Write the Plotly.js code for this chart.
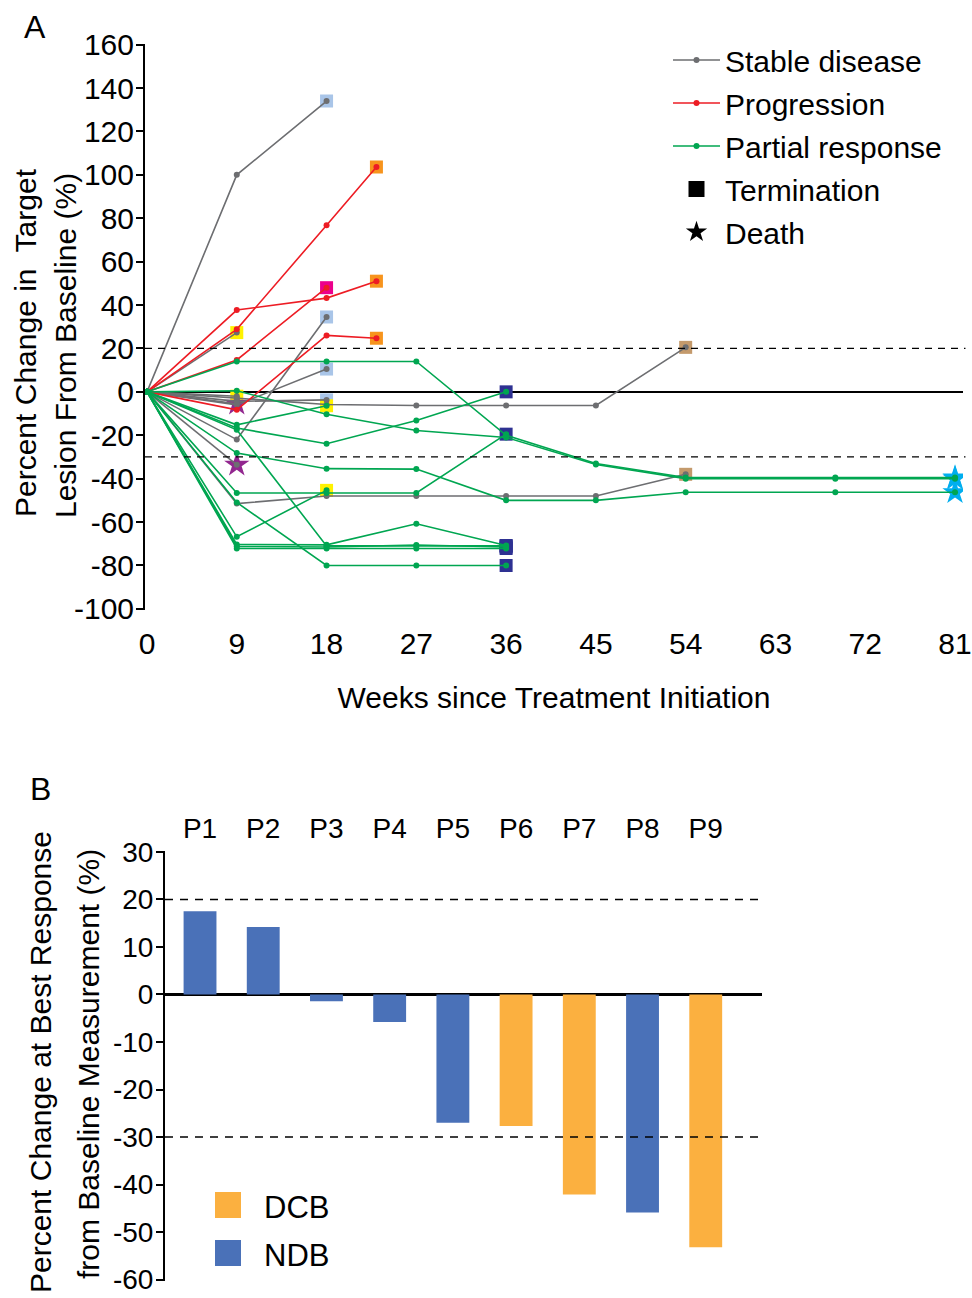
<!DOCTYPE html>
<html>
<head>
<meta charset="utf-8">
<script src="https://cdn.plot.ly/plotly-3.0.1.min.js"></script>
<style>html,body{margin:0;padding:0;background:#fff;}</style>
</head>
<body>
<div id="chart" style="width:972px;height:1298px;"></div>
<script>
// ---------- Panel A data ----------
const weekTicks = [0, 9, 18, 27, 36, 45, 54, 63, 72, 81];
const pctTicksA = [-100, -80, -60, -40, -20, 0, 20, 40, 60, 80, 100, 120, 140, 160];
const weekSched = [0, 9, 18, 27, 36, 45, 54, 69, 81];   // assessment weeks
const weekSchedPD = [0, 9, 18, 23];                      // progression assessments

// Stable disease
const sd1 = [0, 100, 134];
const sd2 = [0, 27.3];
const sd3 = [0, -22, 34.5];
const sd4 = [0, -6, 10.5];
const sd5 = [0, -3, -5.8, -6.3, -6.3, -6.3, 20.5];
const sd6 = [0, -51.5, -48, -48, -48, -48, -38];
const sd7 = [0, -4.4, -3.7];
const sd8 = [0, -33.6];
const sd9 = [0, -5.5];
const sd10 = [0, -2];
// Progression
const pd1 = [0, 28.8, 76.8, 103.6];
const pd2 = [0, 37.7, 43.2, 51];
const pd3 = [0, 14.7, 48];
const pd4 = [0, -8.3, 26, 24.7];
// Partial response
const pr1 = [0, 14, 14, 14, -20, -33, -39.5, -39.5, -39.5];
const pr2 = [0, 0.5, -10.3, -17.8, -21, -33.5, -40, -40, -40];
const pr3 = [0, -28.2, -35.4, -35.6, -50, -50, -46.3, -46.3, -46.3];
const pr4 = [0, -66.8, -45.4];
const pr5 = [0, -46.6, -46.6, -46.6, -19.5];
const pr6 = [0, -15.2, -6.4];
const pr7 = [0, -16.7, -23.9, -13.2, 0];
const pr8 = [0, -17.5, -71, -71, -71];
const pr9 = [0, -51, -80, -80, -80];
const pr10 = [0, -70.3, -70.5, -60.8, -70.8];
const pr11 = [0, -71.2, -71.5, -70.6, -71.5];
const pr12 = [0, -72.2, -72.2, -72.2, -72.2];

// End-of-follow-up event for each patient (T = termination, D = death)
const sdSeries = [sd1, sd2, sd3, sd4, sd5, sd6, sd7, sd8, sd9, sd10];
const sdEvent  = ['T', 'T', 'T', 'T', 'T', 'T', 'T', 'D', 'D', 'T'];
const pdSeries = [pd1, pd2, pd3, pd4];
const pdEvent  = ['T', 'T', 'T', 'T'];
const prSeries = [pr1, pr2, pr3, pr4, pr5, pr6, pr7, pr8, pr9, pr10, pr11, pr12];
const prEvent  = ['D', 'D', 'D', 'T', 'T', 'T', 'T', 'T', 'T', 'T', 'T', 'T'];

// ---------- Panel B data ----------
const patients = ['P1', 'P2', 'P3', 'P4', 'P5', 'P6', 'P7', 'P8', 'P9'];
const bestResponse = [17.5, 14.2, -1.4, -5.8, -27, -27.7, -42.1, -45.9, -53.2];
const benefit = ['NDB', 'NDB', 'NDB', 'NDB', 'NDB', 'DCB', 'DCB', 'NDB', 'DCB'];
const benefitGroups = ['DCB', 'NDB'];
const pctTicksB = [-60, -50, -40, -30, -20, -10, 0, 10, 20, 30];

// ---------- styles ----------
const FONT = 'Arial, "Liberation Sans", sans-serif';
const colSD = '#6D6E71', colPD = '#ED1C24', colPR = '#00A651';
const LB = '#A9C5E8', OR = '#F7941D', MG = '#EC008C', YE = '#FFF200', NV = '#2E3192', BR = '#C49A6C', PU = '#92278F', CY = '#00AEEF';
const sdEndColor = [LB, YE, LB, LB, BR, BR, LB, PU, PU, YE];
const pdEndColor = [OR, OR, MG, OR];
const prEndColor = [CY, CY, CY, YE, NV, YE, NV, NV, NV, NV, NV, NV];
const groupColor = {DCB: '#FBB040', NDB: '#4A71B8'};

const traces = [];
const sq = {x: [], y: [], c: []}, st = {x: [], y: [], c: []};
function collectEnds(series, sched, events, colors) {
  series.forEach((v, i) => {
    const tgt = events[i] === 'T' ? sq : st;
    tgt.x.push(sched[v.length - 1]); tgt.y.push(v[v.length - 1]); tgt.c.push(colors[i]);
  });
}
collectEnds(sdSeries, weekSched, sdEvent, sdEndColor);
collectEnds(pdSeries, weekSchedPD, pdEvent, pdEndColor);
collectEnds(prSeries, weekSched, prEvent, prEndColor);

traces.push({type: 'scatter', mode: 'markers', x: sq.x, y: sq.y, showlegend: false, hoverinfo: 'skip',
  marker: {symbol: 'square', size: 13, color: sq.c, line: {width: 0}}});
traces.push({type: 'scatter', mode: 'markers', x: st.x, y: st.y, showlegend: false, hoverinfo: 'skip',
  marker: {symbol: 'star', size: 19, color: st.c, line: {width: 0}}});

function addLines(series, sched, color, name, rank) {
  series.forEach((v, i) => {
    traces.push({type: 'scatter', mode: 'lines+markers', x: sched.slice(0, v.length), y: v,
      name: name, legendgroup: name, showlegend: i === 0, legendrank: rank,
      line: {color: color, width: 1.6}, marker: {color: color, size: 6}});
  });
}
addLines(sdSeries, weekSched, colSD, 'Stable disease', 1);
addLines(pdSeries, weekSchedPD, colPD, 'Progression', 2);
addLines(prSeries, weekSched, colPR, 'Partial response', 3);

// legend-only entries for end events
traces.push({type: 'scatter', mode: 'markers', x: [null], y: [null], name: 'Termination', legendgroup: 'T', legendrank: 4,
  marker: {symbol: 'square', size: 17, color: '#000'}});
traces.push({type: 'scatter', mode: 'markers', x: [null], y: [null], name: 'Death', legendgroup: 'D', legendrank: 5,
  marker: {symbol: 'star', size: 22, color: '#000'}});

// Panel B bars
['NDB', 'DCB'].forEach(g => {
  const xs = [], ys = [];
  patients.forEach((p, i) => { if (benefit[i] === g) { xs.push(p); ys.push(bestResponse[i]); } });
  traces.push({type: 'bar', x: xs, y: ys, xaxis: 'x2', yaxis: 'y2', width: 0.52, showlegend: false, name: g,
    marker: {color: groupColor[g], line: {width: 0}}});
});

const W = 972, H = 1298;
const px = v => v / W, py = v => 1 - v / H;

const shapes = [
  {type: 'line', xref: 'x domain', yref: 'y', x0: 0, x1: 1.003, y0: 20, y1: 20, line: {color: '#000', width: 1.3, dash: '7px,6px'}},
  {type: 'line', xref: 'x domain', yref: 'y', x0: 0, x1: 1.003, y0: -30, y1: -30, line: {color: '#000', width: 1.3, dash: '7px,6px'}},
  {type: 'line', xref: 'x2 domain', yref: 'y2', x0: 0, x1: 1, y0: 20, y1: 20, line: {color: '#000', width: 1.5, dash: '8px,7px'}},
  {type: 'line', xref: 'x2 domain', yref: 'y2', x0: 0, x1: 1, y0: -30, y1: -30, line: {color: '#000', width: 1.5, dash: '8px,7px'}}
];
const annotations = [
  {text: 'A', xref: 'paper', yref: 'paper', x: px(35), y: py(27), xanchor: 'center', yanchor: 'middle', showarrow: false, font: {size: 32}},
  {text: 'B', xref: 'paper', yref: 'paper', x: px(40), y: py(789), xanchor: 'center', yanchor: 'middle', showarrow: false, font: {size: 32}},
  {text: 'Percent Change in  Target', xref: 'paper', yref: 'paper', x: px(25), y: py(343), textangle: -90,
    xanchor: 'center', yanchor: 'middle', showarrow: false, font: {size: 30}},
  {text: 'Lesion From Baseline (%)', xref: 'paper', yref: 'paper', x: px(65), y: py(346), textangle: -90,
    xanchor: 'center', yanchor: 'middle', showarrow: false, font: {size: 30}},
  {text: 'Percent Change at Best Response', xref: 'paper', yref: 'paper', x: px(40), y: py(1062), textangle: -90,
    xanchor: 'center', yanchor: 'middle', showarrow: false, font: {size: 30}},
  {text: 'from Baseline Measurement (%)', xref: 'paper', yref: 'paper', x: px(88), y: py(1064), textangle: -90,
    xanchor: 'center', yanchor: 'middle', showarrow: false, font: {size: 30}}
];
// Panel B legend (drawn as swatches + labels)
benefitGroups.forEach((g, i) => {
  const cy = 1205 + i * 48;
  shapes.push({type: 'rect', xref: 'paper', yref: 'paper', x0: px(215), x1: px(241), y0: py(cy - 13), y1: py(cy + 13),
    fillcolor: groupColor[g], line: {width: 0}});
  annotations.push({text: g, xref: 'paper', yref: 'paper', x: px(262), y: py(cy + 2), xanchor: 'left', yanchor: 'middle',
    showarrow: false, font: {size: 31}});
});

const layout = {
  width: W, height: H,
  margin: {l: 0, r: 0, t: 0, b: 0},
  paper_bgcolor: '#fff', plot_bgcolor: 'rgba(0,0,0,0)',
  font: {family: FONT, color: '#000', size: 30},
  barmode: 'relative',
  xaxis: {domain: [px(145), px(963)], range: [-0.2, 81.8], anchor: 'y',
    tickmode: 'array', tickvals: weekTicks, ticktext: weekTicks.map(String),
    ticks: 'outside', ticklen: 7, tickcolor: 'rgba(0,0,0,0)',
    showline: false, showgrid: false, zeroline: false,
    tickfont: {size: 30},
    title: {text: 'Weeks since Treatment Initiation', font: {size: 30}, standoff: 28}},
  yaxis: {domain: [py(609.5), py(44)], range: [-100.3, 160.3], anchor: 'x',
    tickmode: 'array', tickvals: pctTicksA, ticktext: pctTicksA.map(String),
    ticks: 'outside', ticklen: 7, tickwidth: 2, tickcolor: '#000', ticklabelstandoff: -4,
    ticklabeloverflow: 'allow',
    showline: true, linewidth: 2, linecolor: '#000', showgrid: false,
    zeroline: true, zerolinecolor: '#000', zerolinewidth: 1.6,
    tickfont: {size: 30}},
  xaxis2: {domain: [px(165), px(762)], range: [-0.554, 8.89], anchor: 'y2', type: 'category',
    categoryorder: 'array', categoryarray: patients,
    side: 'top', ticks: 'outside', ticklen: 1, tickcolor: 'rgba(0,0,0,0)',
    showline: false, showgrid: false, zeroline: false, tickfont: {size: 28}},
  yaxis2: {domain: [py(1280.5), py(851)], range: [-60.2, 30.2], anchor: 'x2',
    tickmode: 'array', tickvals: pctTicksB, ticktext: pctTicksB.map(String),
    ticks: 'outside', ticklen: 7, tickwidth: 2, tickcolor: '#000', ticklabelstandoff: -3,
    ticklabeloverflow: 'allow',
    showline: true, linewidth: 2, linecolor: '#000', showgrid: false,
    zeroline: true, zerolinecolor: '#000', zerolinewidth: 2.5,
    tickfont: {size: 28}},
  legend: {x: px(668), y: py(34), xanchor: 'left', yanchor: 'top', bgcolor: 'rgba(0,0,0,0)',
    font: {size: 30}, itemwidth: 47, tracegroupgap: 1, traceorder: 'grouped'},
  shapes: shapes,
  annotations: annotations
};

Plotly.newPlot('chart', traces, layout, {displayModeBar: false, staticPlot: true});
</script>
</body>
</html>
